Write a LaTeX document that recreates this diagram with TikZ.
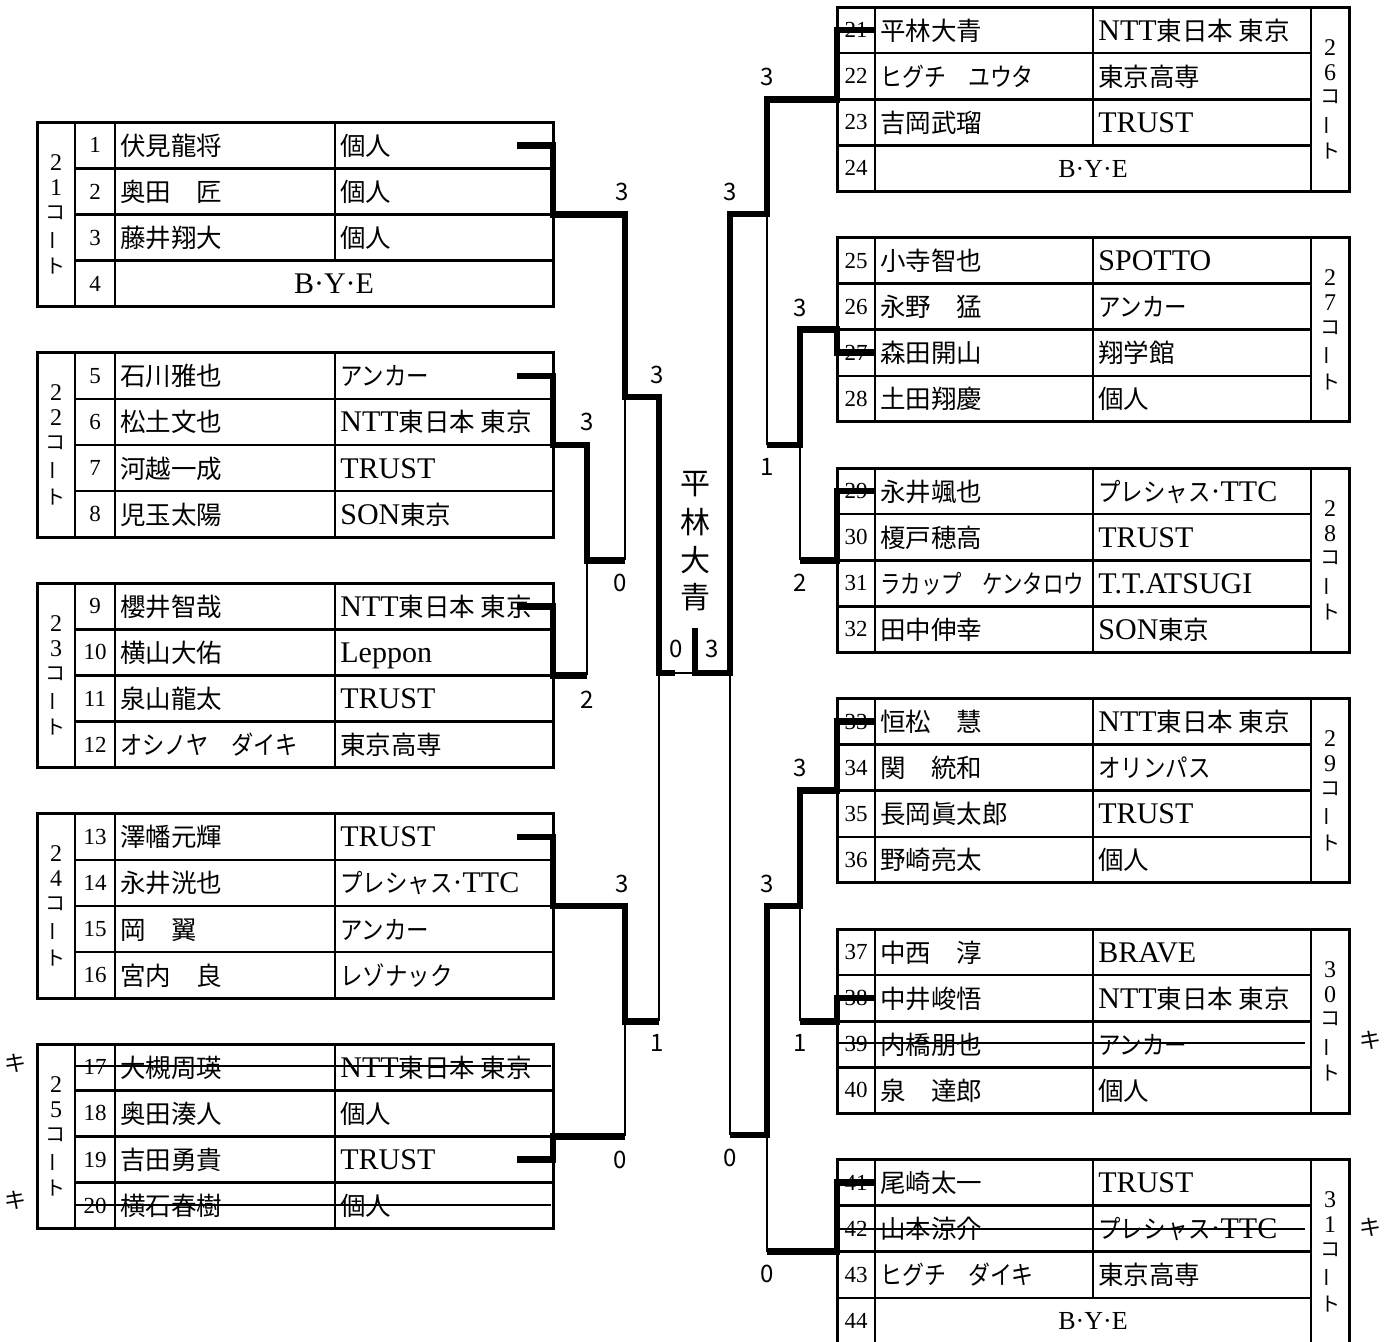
\documentclass[tikz,border=0pt]{standalone}
\usepackage{fontspec}
\usepackage{graphicx}
\setmainfont{Liberation Serif}
\newfontfamily\jpfont{Noto Sans CJK JP}
\newcommand\J[1]{{\jpfont\fontsize{12.75}{13}\selectfont #1}}
\newcommand\K[1]{\scalebox{0.88}[1]{\J{#1}}}
\newcommand\KN[2]{\scalebox{#1}[1]{\J{#2}}}

\tikzset{
  tbl/.style={line width=1.5pt},
  grid/.style={line width=1.3pt},
  win/.style={line width=3.3pt},
  lose/.style={line width=1.3pt},
  strike/.style={line width=1.2pt},
  nm/.style={anchor=base west, inner sep=0pt, font=\jpfont\fontsize{12.75}{13}\selectfont},
  tm/.style={anchor=base west, inner sep=0pt, font=\fontsize{15}{15}\selectfont},
  num/.style={inner sep=0pt, font=\fontsize{11.5}{12}\selectfont},
  bye/.style={anchor=base, inner sep=0pt, font=\fontsize{15}{15}\selectfont},
  byer/.style={anchor=base, inner sep=0pt, font=\fontsize{13}{13}\selectfont},
  ct/.style={inner sep=0pt, font=\fontsize{12}{12}\selectfont},
  ctj/.style={inner sep=0pt, font=\jpfont\fontsize{10}{10}\selectfont},
  sc/.style={inner sep=0pt, font=\jpfont\fontsize{12}{12}\selectfont},
  ki/.style={inner sep=0pt, font=\jpfont\fontsize{11}{11}\selectfont},
  big/.style={inner sep=0pt, font=\jpfont\fontsize{15}{15}\selectfont},
}

% left table frame: #1 top, #2 rows of team divider
\newcommand\LFrame[2]{%
  \draw[grid] (75,#1) -- (75,#1+184.4);
  \draw[grid] (115,#1) -- (115,#1+184.4);
  \draw[grid] (335,#1) -- (335,#1+46.1*#2);
  \foreach \r in {1,2,3} {\draw[grid] (75,#1+46.1*\r) -- (553,#1+46.1*\r);}
  \draw[tbl] (37,#1) rectangle (553,#1+184.4);
}
\newcommand\RFrame[2]{%
  \draw[grid] (875,#1) -- (875,#1+184.4);
  \draw[grid] (1311,#1) -- (1311,#1+184.4);
  \draw[grid] (1093,#1) -- (1093,#1+46.1*#2);
  \foreach \r in {1,2,3} {\draw[grid] (837,#1+46.1*\r) -- (1311,#1+46.1*\r);}
  \draw[tbl] (837,#1) rectangle (1349,#1+184.4);
}
% rows: #1 top, #2 row index, #3 number, #4 name, #5 team
\newcommand\Lrow[5]{%
  \node[num] (n#3) at (95,#1+46.1*#2+23.05) {#3};
  \node[nm] (p#3) at (120,#1+46.1*#2+33.05) {#4};
  \node[tm] (t#3) at (340,#1+46.1*#2+33.05) {#5};
}
\newcommand\Rrow[5]{%
  \node[num] (n#3) at (856,#1+46.1*#2+23.05) {#3};
  \node[nm] (p#3) at (880,#1+46.1*#2+33.05) {#4};
  \node[tm] (t#3) at (1098,#1+46.1*#2+33.05) {#5};
}
\newcommand\LBye[2]{%
  \node[num] (n#2) at (95,#1+161.35) {#2};
  \node[bye] (b#2) at (334,#1+171.35) {B·Y·E};
}
\newcommand\RBye[2]{%
  \node[num] (n#2) at (856,#1+161.35) {#2};
  \node[byer] (b#2) at (1093,#1+170) {B·Y·E};
}
% court label: #1 x, #2 mid y, #3 #4 digits, #5 id
\newcommand\Court[5]{%
  \node[ct] (#5a) at (#1,#2-52) {#3};
  \node[ct] (#5b) at (#1,#2-27) {#4};
  \node[ctj] (#5c) at (#1,#2-2) {コ};
  \node[ctj,rotate=90] (#5d) at (#1,#2+26) {ー};
  \node[ctj] (#5e) at (#1,#2+52) {ト};
}

\begin{document}
\begin{tikzpicture}[x=0.5pt,y=-0.5pt]
\useasboundingbox (0,0) rectangle (1391,1341);

% ---------------- left tables ----------------
\LFrame{122.25}{3}
\Court{56}{214.45}{2}{1}{cA}
\Lrow{122.25}{0}{1}{伏見龍将}{\J{個人}}
\Lrow{122.25}{1}{2}{奥田　匠}{\J{個人}}
\Lrow{122.25}{2}{3}{藤井翔大}{\J{個人}}
\LBye{122.25}{4}

\LFrame{352.75}{4}
\Court{56}{444.95}{2}{2}{cB}
\Lrow{352.75}{0}{5}{石川雅也}{\K{アンカー}}
\Lrow{352.75}{1}{6}{松土文也}{NTT\J{東日本 東京}}
\Lrow{352.75}{2}{7}{河越一成}{TRUST}
\Lrow{352.75}{3}{8}{児玉太陽}{SON\J{東京}}

\LFrame{583.25}{4}
\Court{56}{675.45}{2}{3}{cC}
\Lrow{583.25}{0}{9}{櫻井智哉}{NTT\J{東日本 東京}}
\Lrow{583.25}{1}{10}{横山大佑}{Leppon}
\Lrow{583.25}{2}{11}{泉山龍太}{TRUST}
\Lrow{583.25}{3}{12}{\KN{0.87}{オシノヤ　ダイキ}}{\J{東京高専}}

\LFrame{813.75}{4}
\Court{56}{905.95}{2}{4}{cD}
\Lrow{813.75}{0}{13}{澤幡元輝}{TRUST}
\Lrow{813.75}{1}{14}{永井洸也}{\K{プレシャス}·TTC}
\Lrow{813.75}{2}{15}{岡　翼}{\K{アンカー}}
\Lrow{813.75}{3}{16}{宮内　良}{\K{レゾナック}}

\LFrame{1044.25}{4}
\Court{56}{1136.45}{2}{5}{cE}
\Lrow{1044.25}{0}{17}{大槻周瑛}{NTT\J{東日本 東京}}
\Lrow{1044.25}{1}{18}{奥田湊人}{\J{個人}}
\Lrow{1044.25}{2}{19}{吉田勇貴}{TRUST}
\Lrow{1044.25}{3}{20}{横石春樹}{\J{個人}}

% ---------------- right tables ----------------
\RFrame{7}{3}
\Court{1330}{99.2}{2}{6}{cF}
\Rrow{7}{0}{21}{平林大青}{NTT\J{東日本 東京}}
\Rrow{7}{1}{22}{\KN{0.86}{ヒグチ　ユウタ}}{\J{東京高専}}
\Rrow{7}{2}{23}{吉岡武瑠}{TRUST}
\RBye{7}{24}

\RFrame{237.5}{4}
\Court{1330}{329.7}{2}{7}{cG}
\Rrow{237.5}{0}{25}{小寺智也}{SPOTTO}
\Rrow{237.5}{1}{26}{永野　猛}{\K{アンカー}}
\Rrow{237.5}{2}{27}{森田開山}{\J{翔学館}}
\Rrow{237.5}{3}{28}{土田翔慶}{\J{個人}}

\RFrame{468}{4}
\Court{1330}{560.2}{2}{8}{cH}
\Rrow{468}{0}{29}{永井颯也}{\K{プレシャス}·TTC}
\Rrow{468}{1}{30}{榎戸穂高}{TRUST}
\Rrow{468}{2}{31}{\KN{0.8}{ラカップ　ケンタロウ}}{T.T.ATSUGI}
\Rrow{468}{3}{32}{田中伸幸}{SON\J{東京}}

\RFrame{698.5}{4}
\Court{1330}{790.7}{2}{9}{cI}
\Rrow{698.5}{0}{33}{恒松　慧}{NTT\J{東日本 東京}}
\Rrow{698.5}{1}{34}{関　統和}{\K{オリンパス}}
\Rrow{698.5}{2}{35}{長岡眞太郎}{TRUST}
\Rrow{698.5}{3}{36}{野崎亮太}{\J{個人}}

\RFrame{929}{4}
\Court{1330}{1021.2}{3}{0}{cJ}
\Rrow{929}{0}{37}{中西　淳}{BRAVE}
\Rrow{929}{1}{38}{中井峻悟}{NTT\J{東日本 東京}}
\Rrow{929}{2}{39}{内橋朋也}{\K{アンカー}}
\Rrow{929}{3}{40}{泉　達郎}{\J{個人}}

\RFrame{1159.5}{3}
\Court{1330}{1251.7}{3}{1}{cK}
\Rrow{1159.5}{0}{41}{尾崎太一}{TRUST}
\Rrow{1159.5}{1}{42}{山本涼介}{\K{プレシャス}·TTC}
\Rrow{1159.5}{2}{43}{\KN{0.86}{ヒグチ　ダイキ}}{\J{東京高専}}
\RBye{1159.5}{44}

% ---------------- strike-outs ----------------
\draw[strike] (75,1066) -- (551,1066);
\draw[strike] (75,1205) -- (551,1205);
\draw[strike] (837,1043) -- (1305,1043);
\draw[strike] (837,1229) -- (1305,1229);
\node[ki] (k1) at (15,1063) {キ};
\node[ki] (k2) at (15,1200) {キ};
\node[ki] (k3) at (1370,1040) {キ};
\node[ki] (k4) at (1370,1227) {キ};

% ---------------- bracket: left ----------------
\draw[lose] (625,560.2) -- (625,397);
\draw[lose] (587,675.45) -- (587,560.2);
\draw[lose] (659,1021.2) -- (659,673);
\draw[lose] (625,1136.45) -- (625,1021.2);
\draw[lose] (675,673) -- (695,673);
\draw[win] (517,145.3) -- (553,145.3) -- (553,214.45) -- (625,214.45) -- (625,397) -- (659,397) -- (659,673) -- (675,673);
\draw[win] (517,375.8) -- (553,375.8) -- (553,444.95) -- (587,444.95) -- (587,560.2) -- (625,560.2);
\draw[win] (517,606.3) -- (553,606.3) -- (553,675.45) -- (587,675.45);
\draw[win] (517,836.8) -- (553,836.8) -- (553,905.95) -- (625,905.95) -- (625,1021.2) -- (659,1021.2);
\draw[win] (517,1159.5) -- (553,1159.5) -- (553,1136.45) -- (625,1136.45);

% ---------------- bracket: right ----------------
\draw[lose] (767,445) -- (767,214);
\draw[lose] (800,560.2) -- (800,445);
\draw[lose] (730,1135) -- (730,673);
\draw[lose] (800,1021.2) -- (800,906);
\draw[lose] (767,1251.7) -- (767,1135);
\draw[win] (875,30.05) -- (837,30.05) -- (837,99.2) -- (767,99.2) -- (767,214) -- (730,214) -- (730,673) -- (695,673) -- (695,628);
\draw[win] (875,352.75) -- (837,352.75) -- (837,329.7) -- (800,329.7) -- (800,445) -- (767,445);
\draw[win] (875,491.05) -- (837,491.05) -- (837,560.2) -- (800,560.2);
\draw[win] (875,721.55) -- (837,721.55) -- (837,790.7) -- (800,790.7) -- (800,906) -- (767,906) -- (767,1135) -- (730,1135);
\draw[win] (875,998.15) -- (837,998.15) -- (837,1021.2) -- (800,1021.2);
\draw[win] (875,1182.55) -- (837,1182.55) -- (837,1251.7) -- (767,1251.7);

% ---------------- scores ----------------
\node[sc] (s1) at (622,192) {3};
\node[sc] (s2) at (587,422) {3};
\node[sc] (s3) at (587,700) {2};
\node[sc] (s4) at (657,375) {3};
\node[sc] (s5) at (620,583) {0};
\node[sc] (s6) at (622,884) {3};
\node[sc] (s7) at (620,1160) {0};
\node[sc] (s8) at (657,1043) {1};
\node[sc] (s9) at (676,649) {0};
\node[sc] (s10) at (712,649) {3};
\node[sc] (s11) at (767,77) {3};
\node[sc] (s12) at (730,192) {3};
\node[sc] (s13) at (800,308) {3};
\node[sc] (s14) at (767,467) {1};
\node[sc] (s15) at (800,583) {2};
\node[sc] (s16) at (800,768) {3};
\node[sc] (s17) at (767,884) {3};
\node[sc] (s18) at (800,1043) {1};
\node[sc] (s19) at (730,1158) {0};
\node[sc] (s20) at (767,1274) {0};

% ---------------- champion ----------------
\node[big] (w1) at (695,484) {平};
\node[big] (w2) at (695,522) {林};
\node[big] (w3) at (695,560) {大};
\node[big] (w4) at (695,597) {青};
\end{tikzpicture}
\end{document}
